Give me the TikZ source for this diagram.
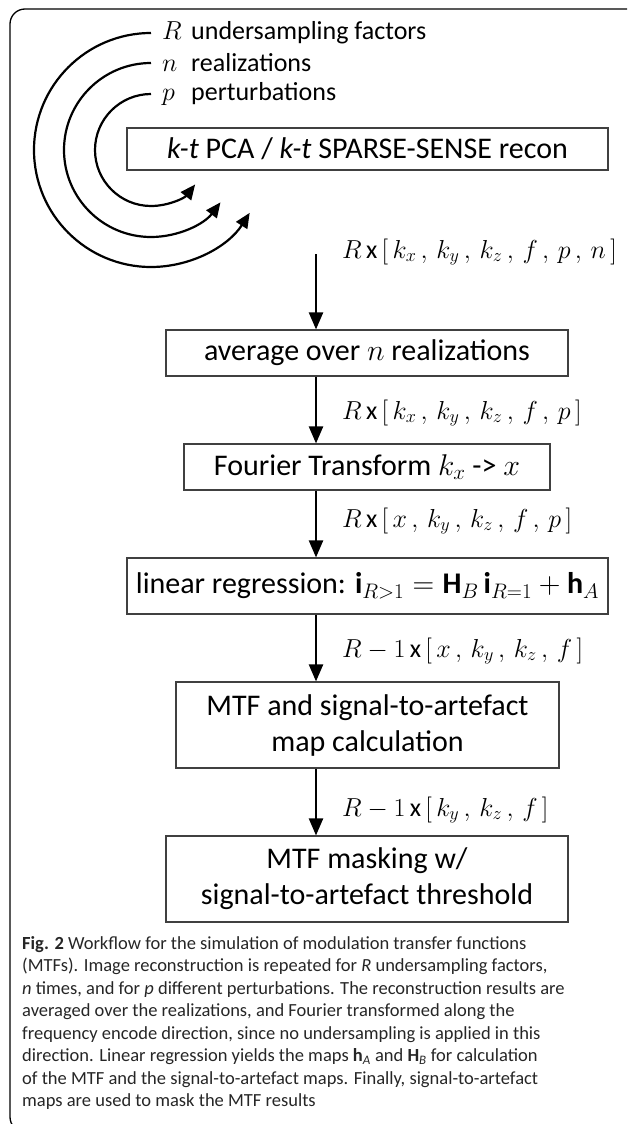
\documentclass[tikz,border=0pt]{standalone}
\usepackage{fix-cm}
\usepackage{fontspec}
\setmainfont{Carlito}
\usetikzlibrary{arrows.meta,calc}
\newcommand\boxfs{\fontsize{30}{36}\selectfont}
\newcommand\topfs{\fontsize{26}{30}\selectfont}
\newcommand\labfs{\fontsize{26}{30}\selectfont}
\newcommand\capfs{\fontsize{18.5}{22.5}\selectfont}
\begin{document}
\begin{tikzpicture}[x=1pt,y=-1pt,
  flowbox/.style={draw=black!75, line width=1.1pt, inner sep=0pt, align=center, font=\boxfs},
  toptext/.style={anchor=west, inner xsep=11pt, inner ysep=0pt, font=\topfs},
  lab/.style={anchor=west, inner sep=0pt, font=\labfs},
  flowarrow/.style={line width=2.2pt, -{Triangle[length=17pt,width=14pt]}},
  looparrow/.style={line width=2.2pt, -{Triangle[length=15pt,width=13pt]}},
  frame/.style={line width=1.3pt, rounded corners=15pt}
]
\useasboundingbox (0,0) rectangle (627,1124);
\begin{scope}
  \clip (0,0) rectangle (627,1124);
  \draw[frame] (10,9) rectangle (700,1132);
\end{scope}

% top loop texts
\node[toptext] (tR) at (151,33) {\makebox[29pt][l]{$R$}undersampling factors};
\node[toptext] (tn) at (151,63) {\makebox[29pt][l]{$n$}realizations};
\node[toptext] (tp) at (151,94) {\makebox[29pt][l]{$p$}perturbations};

% boxes
\node[flowbox, minimum width=481pt, minimum height=42pt] (b1) at (367.5,149)
  {\textit{k-t} PCA / \textit{k-t} SPARSE-SENSE recon};
\node[flowbox, minimum width=402pt, minimum height=46pt] (b2) at (367,353)
  {average over $n$ realizations};
\node[flowbox, minimum width=366pt, minimum height=46pt] (b3) at (367,467)
  {Fourier Transform $k_x$ -> $x$};
\node[flowbox, minimum width=481pt, minimum height=56pt] (b4) at (367.5,586)
  {linear regression: $\mathbf{i}_{R>1} = \mathbf{H}_B\,\mathbf{i}_{R=1} + \mathbf{h}_A$};
\node[flowbox, minimum width=383pt, minimum height=86pt] (b5) at (367.5,725)
  {MTF and signal-to-artefact\\ map calculation};
\node[flowbox, minimum width=402pt, minimum height=86pt] (b6) at (367,879)
  {MTF masking w/\\ signal-to-artefact threshold};

% loops
\draw[looparrow] (tR.west) arc[start angle=-90, end angle=-327.5, radius=117];
\draw[looparrow] (tn.west) arc[start angle=-90, end angle=-323, radius=87];
\draw[looparrow] (tp.west) arc[start angle=-90, end angle=-322, radius=56];

% arrows
\coordinate (ax) at (316,0);
\coordinate (a1) at (316,254);
\draw[flowarrow] (a1) -- (b2.north -| ax);
\draw[flowarrow] (b2.south -| ax) -- (b3.north -| ax);
\draw[flowarrow] (b3.south -| ax) -- (b4.north -| ax);
\draw[flowarrow] (b4.south -| ax) -- (b5.north -| ax);
\draw[flowarrow] (b5.south -| ax) -- (b6.north -| ax);

% labels
\node[lab] (l1) at (342,252) {$R$\,x\,$[\,k_x\,,\,k_y\,,\,k_z\,,\,f\,,\,p\,,\,n\,]$};
\node[lab] (l2) at (342,413) {$R$\,x\,$[\,k_x\,,\,k_y\,,\,k_z\,,\,f\,,\,p\,]$};
\node[lab] (l3) at (342,521) {$R$\,x\,$[\,x\,,\,k_y\,,\,k_z\,,\,f\,,\,p\,]$};
\node[lab] (l4) at (342,651) {$R-1$\,x\,$[\,x\,,\,k_y\,,\,k_z\,,\,f\,]$};
\node[lab] (l5) at (342,810) {$R-1$\,x\,$[\,k_y\,,\,k_z\,,\,f\,]$};

% caption
\node[anchor=north west, inner sep=0pt, align=left, font=\capfs, text=black!85] (cap) at (22,936)
{\textbf{Fig. 2} Workflow for the simulation of modulation transfer functions\\
(MTFs). Image reconstruction is repeated for \textit{R} undersampling factors,\\
\textit{n} times, and for \textit{p} different perturbations. The reconstruction results are\\
averaged over the realizations, and Fourier transformed along the\\
frequency encode direction, since no undersampling is applied in this\\
direction. Linear regression yields the maps \textbf{h}\textsubscript{\textit{A}} and \textbf{H}\textsubscript{\textit{B}} for calculation\\
of the MTF and the signal-to-artefact maps. Finally, signal-to-artefact\\
maps are used to mask the MTF results};
\end{tikzpicture}
\end{document}
